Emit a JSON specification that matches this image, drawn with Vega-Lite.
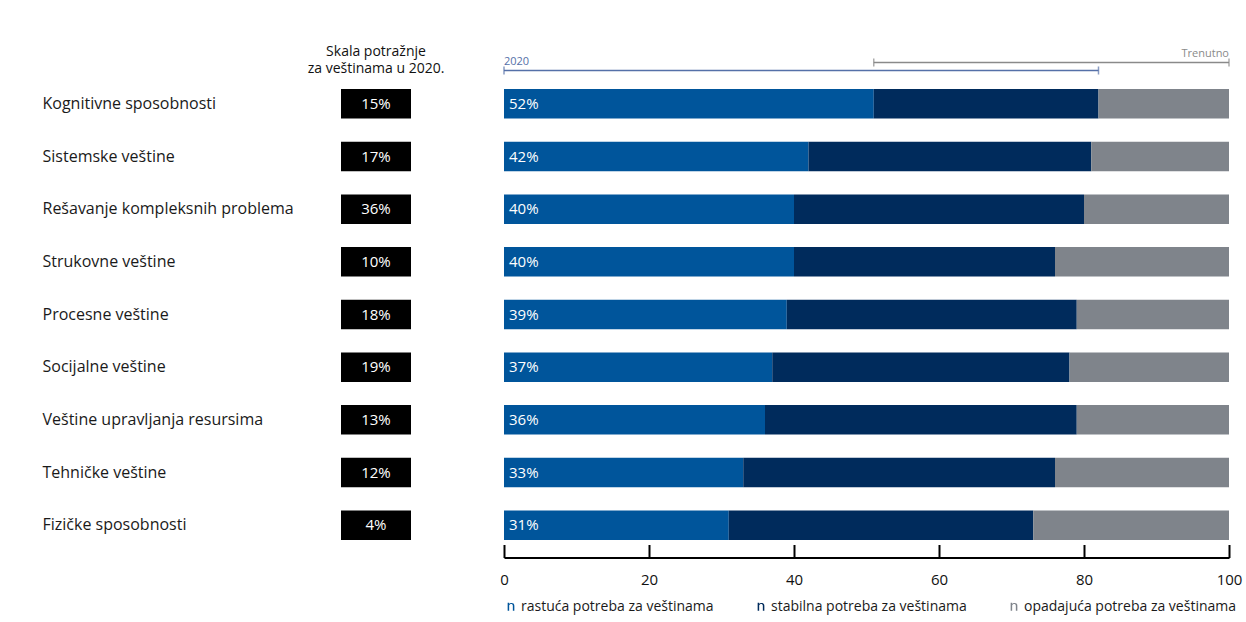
{
  "$schema": "https://vega.github.io/schema/vega-lite/v6.json",
  "padding": {"left": 42, "top": 44.5, "right": 5, "bottom": 5},
  "bounds": "flush",
  "columns": 2,
  "spacing": {"row": 3, "column": 93},
  "resolve": {"scale": {"color": "independent"}, "legend": {"color": "independent"}},
  "config": {
    "font": "Open Sans",
    "view": {"stroke": null},
    "text": {"font": "Open Sans"}
  },
  "datasets": {
    "bars": [
      {"skill": "Kognitivne sposobnosti", "need": "rastuća potreba za veštinama", "k": 1, "value": 51},
      {"skill": "Kognitivne sposobnosti", "need": "stabilna potreba za veštinama", "k": 2, "value": 31},
      {"skill": "Kognitivne sposobnosti", "need": "opadajuća potreba za veštinama", "k": 3, "value": 18},
      {"skill": "Sistemske veštine", "need": "rastuća potreba za veštinama", "k": 1, "value": 42},
      {"skill": "Sistemske veštine", "need": "stabilna potreba za veštinama", "k": 2, "value": 39},
      {"skill": "Sistemske veštine", "need": "opadajuća potreba za veštinama", "k": 3, "value": 19},
      {"skill": "Rešavanje kompleksnih problema", "need": "rastuća potreba za veštinama", "k": 1, "value": 40},
      {"skill": "Rešavanje kompleksnih problema", "need": "stabilna potreba za veštinama", "k": 2, "value": 40},
      {"skill": "Rešavanje kompleksnih problema", "need": "opadajuća potreba za veštinama", "k": 3, "value": 20},
      {"skill": "Strukovne veštine", "need": "rastuća potreba za veštinama", "k": 1, "value": 40},
      {"skill": "Strukovne veštine", "need": "stabilna potreba za veštinama", "k": 2, "value": 36},
      {"skill": "Strukovne veštine", "need": "opadajuća potreba za veštinama", "k": 3, "value": 24},
      {"skill": "Procesne veštine", "need": "rastuća potreba za veštinama", "k": 1, "value": 39},
      {"skill": "Procesne veštine", "need": "stabilna potreba za veštinama", "k": 2, "value": 40},
      {"skill": "Procesne veštine", "need": "opadajuća potreba za veštinama", "k": 3, "value": 21},
      {"skill": "Socijalne veštine", "need": "rastuća potreba za veštinama", "k": 1, "value": 37},
      {"skill": "Socijalne veštine", "need": "stabilna potreba za veštinama", "k": 2, "value": 41},
      {"skill": "Socijalne veštine", "need": "opadajuća potreba za veštinama", "k": 3, "value": 22},
      {"skill": "Veštine upravljanja resursima", "need": "rastuća potreba za veštinama", "k": 1, "value": 36},
      {"skill": "Veštine upravljanja resursima", "need": "stabilna potreba za veštinama", "k": 2, "value": 43},
      {"skill": "Veštine upravljanja resursima", "need": "opadajuća potreba za veštinama", "k": 3, "value": 21},
      {"skill": "Tehničke veštine", "need": "rastuća potreba za veštinama", "k": 1, "value": 33},
      {"skill": "Tehničke veštine", "need": "stabilna potreba za veštinama", "k": 2, "value": 43},
      {"skill": "Tehničke veštine", "need": "opadajuća potreba za veštinama", "k": 3, "value": 24},
      {"skill": "Fizičke sposobnosti", "need": "rastuća potreba za veštinama", "k": 1, "value": 31},
      {"skill": "Fizičke sposobnosti", "need": "stabilna potreba za veštinama", "k": 2, "value": 42},
      {"skill": "Fizičke sposobnosti", "need": "opadajuća potreba za veštinama", "k": 3, "value": 27}
    ],
    "skills": [
      {"skill": "Kognitivne sposobnosti", "demand": 0.15, "rise": 0.52},
      {"skill": "Sistemske veštine", "demand": 0.17, "rise": 0.42},
      {"skill": "Rešavanje kompleksnih problema", "demand": 0.36, "rise": 0.40},
      {"skill": "Strukovne veštine", "demand": 0.10, "rise": 0.40},
      {"skill": "Procesne veštine", "demand": 0.18, "rise": 0.39},
      {"skill": "Socijalne veštine", "demand": 0.19, "rise": 0.37},
      {"skill": "Veštine upravljanja resursima", "demand": 0.13, "rise": 0.36},
      {"skill": "Tehničke veštine", "demand": 0.12, "rise": 0.33},
      {"skill": "Fizičke sposobnosti", "demand": 0.04, "rise": 0.31}
    ],
    "brackets": [
      {"period": "2020", "start": 0, "end": 82},
      {"period": "Trenutno", "start": 51, "end": 100}
    ]
  },
  "concat": [
    {
      "width": 70,
      "height": 16,
      "data": {"values": [{}]},
      "mark": {
        "type": "text",
        "text": ["Skala potražnje", "za veštinama u 2020."],
        "fontSize": 14,
        "lineHeight": 17,
        "align": "center",
        "baseline": "middle",
        "dy": -15,
        "color": "#111111"
      }
    },
    {
      "width": 725,
      "height": 16,
      "data": {"name": "brackets"},
      "encoding": {
        "y": {"field": "period", "type": "nominal", "scale": {"type": "point", "domain": ["Trenutno", "2020"]}, "axis": null},
        "x": {"field": "start", "type": "quantitative", "scale": {"domain": [0, 100]}, "axis": null},
        "color": {"field": "period", "type": "nominal", "scale": {"domain": ["2020", "Trenutno"], "range": ["#5570a8", "#8a8a8a"]}, "legend": null}
      },
      "layer": [
        {"mark": {"type": "rule", "strokeWidth": 1.5}, "encoding": {"x2": {"field": "end"}}},
        {"mark": {"type": "tick", "size": 8, "thickness": 1.5}},
        {"mark": {"type": "tick", "size": 8, "thickness": 1.5}, "encoding": {"x": {"field": "end", "type": "quantitative"}}},
        {
          "transform": [{"filter": "datum.period === '2020'"}],
          "mark": {"type": "text", "align": "left", "baseline": "middle", "dy": -9, "fontSize": 11},
          "encoding": {"text": {"field": "period"}}
        },
        {
          "transform": [{"filter": "datum.period === 'Trenutno'"}],
          "mark": {"type": "text", "align": "right", "baseline": "middle", "dy": -9, "fontSize": 11},
          "encoding": {"x": {"field": "end", "type": "quantitative"}, "text": {"field": "period"}}
        }
      ]
    },
    {
      "width": 70,
      "height": 474,
      "data": {"name": "skills"},
      "encoding": {
        "y": {
          "field": "skill", "type": "nominal", "sort": null,
          "scale": {"paddingInner": 0.44, "paddingOuter": 0.22},
          "axis": {
            "title": null, "domain": false, "ticks": false, "tickSize": 0,
            "labelAlign": "left", "labelPadding": 299, "labelLimit": 320,
            "labelFontSize": 16, "labelColor": "#1a1a1a", "labelFont": "Open Sans"
          }
        }
      },
      "layer": [
        {"mark": {"type": "rect", "color": "#000000"}},
        {
          "mark": {"type": "text", "color": "#ffffff", "fontSize": 15, "align": "center", "baseline": "middle"},
          "encoding": {"text": {"field": "demand", "type": "quantitative", "format": ".0%"}}
        }
      ]
    },
    {
      "width": 725,
      "height": 474,
      "layer": [
        {
          "data": {"name": "bars"},
          "mark": {"type": "bar"},
          "encoding": {
            "x": {
              "field": "value", "type": "quantitative", "stack": "zero",
              "scale": {"domain": [0, 100]},
              "axis": {
                "title": null, "grid": false, "values": [0, 20, 40, 60, 80, 100],
                "domainColor": "#000000", "domainWidth": 2,
                "tickColor": "#000000", "tickWidth": 2, "tickSize": -13,
                "offset": 6, "labelPadding": 28, "labelFlush": false,
                "labelFontSize": 15, "labelColor": "#111111"
              }
            },
            "y": {"field": "skill", "type": "nominal", "sort": null, "scale": {"paddingInner": 0.44, "paddingOuter": 0.22}, "axis": null},
            "color": {
              "field": "need", "type": "nominal",
              "sort": ["rastuća potreba za veštinama", "stabilna potreba za veštinama", "opadajuća potreba za veštinama"],
              "scale": {
                "domain": ["rastuća potreba za veštinama", "stabilna potreba za veštinama", "opadajuća potreba za veštinama"],
                "range": ["#00559b", "#002b5c", "#7f848b"]
              },
              "legend": {
                "title": null, "orient": "bottom", "direction": "horizontal",
                "symbolType": "M-0.8,1 L-0.8,-0.9 L-0.44,-0.9 L-0.44,-0.6 C-0.2,-0.94 0.8,-1.04 0.8,-0.2 L0.8,1 L0.44,1 L0.44,-0.2 C0.44,-0.7 -0.2,-0.7 -0.44,-0.3 L-0.44,1 Z",
                "symbolSize": 70, "symbolStrokeWidth": 0,
                "labelFontSize": 14, "labelColor": "#1a1a1a", "labelOffset": 3, "labelLimit": 320,
                "columnPadding": 40, "offset": 12
              }
            },
            "order": {"field": "k", "type": "quantitative"}
          }
        },
        {
          "data": {"name": "skills"},
          "mark": {"type": "text", "align": "left", "baseline": "middle", "dx": 5, "color": "#ffffff", "fontSize": 15},
          "encoding": {
            "x": {"datum": 0, "type": "quantitative"},
            "y": {"field": "skill", "type": "nominal", "sort": null},
            "text": {"field": "rise", "type": "quantitative", "format": ".0%"}
          }
        }
      ]
    }
  ]
}
